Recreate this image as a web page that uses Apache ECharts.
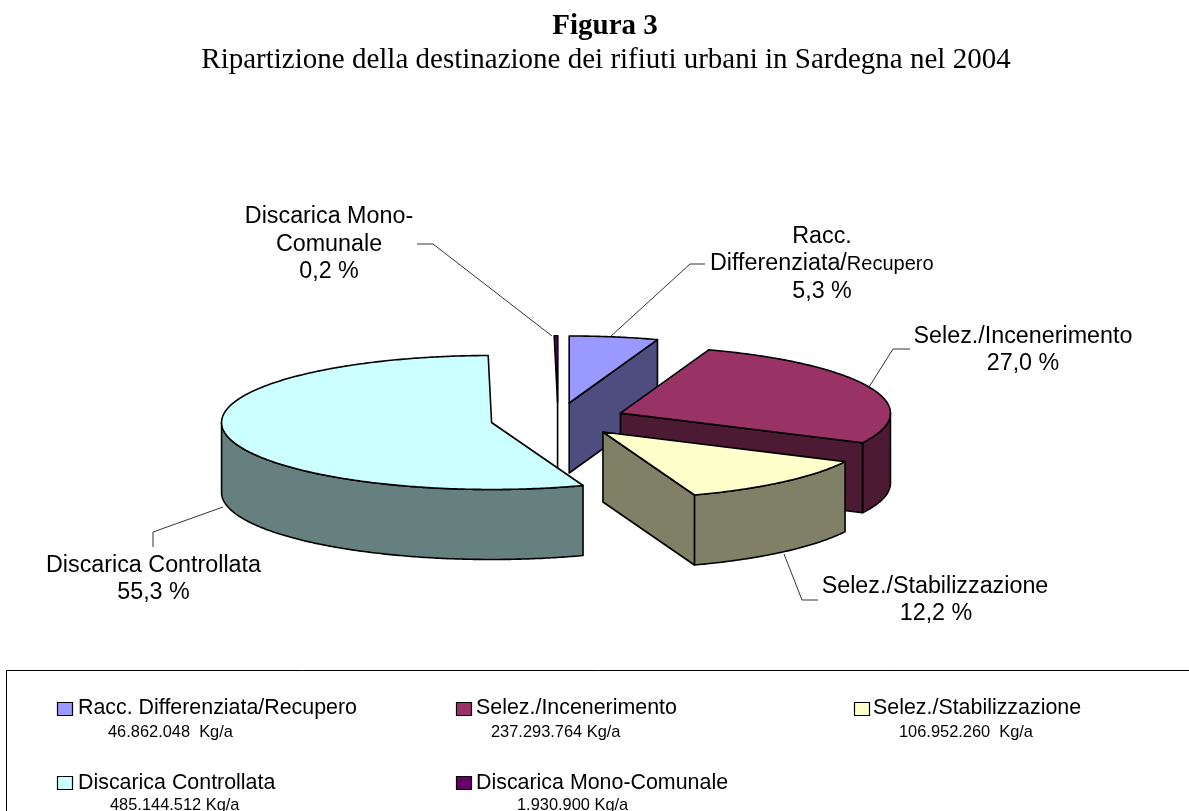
<!DOCTYPE html>
<html><head><meta charset="utf-8">
<style>html,body{margin:0;padding:0;background:#fff}#c{width:1189px;height:811px}</style>
<script src="https://cdn.jsdelivr.net/npm/echarts@6/dist/echarts.min.js"></script>
</head><body><div id="c"></div>
<script>
// ---- data ----
const categories = ['Racc. Differenziata/Recupero','Selez./Incenerimento','Selez./Stabilizzazione','Discarica Controllata','Discarica Mono-Comunale'];
const percentages = [5.3, 27.0, 12.2, 55.3, 0.2];
const percentLabels = ['5,3 %','27,0 %','12,2 %','55,3 %','0,2 %'];
const quantities = ['46.862.048  Kg/a','237.293.764 Kg/a','106.952.260  Kg/a','485.144.512 Kg/a','1.930.900 Kg/a'];
const titleLines = ['Figura 3','Ripartizione della destinazione dei rifiuti urbani in Sardegna nel 2004'];

// ---- styles and layout ----
const topColors  = ['#9999ff','#993366','#ffffcc','#ccffff','#660066'];
const sideColors = ['#4d4d80','#4d1a33','#808066','#668080','#330033'];
const drawOrder  = [0,4,1,3,2];
const pie = {cx:558, cy:419.5, rx:270, ry:67, depth:70, explode:0.25};
const sans = '"Liberation Sans", Arial, sans-serif';
const serif = '"Liberation Serif", "Times New Roman", serif';

const total = percentages.reduce((a,b)=>a+b,0);
const starts = []; percentages.reduce((a,b,i)=>{starts[i]=a; return a+b;},0);
const rad = p => p/total*2*Math.PI;

function renderSlice(params, api){
  const i = params.dataIndex, a0 = rad(starts[i]), a1 = rad(starts[i]+api.value(0)), mid=(a0+a1)/2;
  const ax = pie.cx + pie.explode*pie.rx*Math.sin(mid), ay = pie.cy - pie.explode*pie.ry*Math.cos(mid);
  const P = t => [ax+pie.rx*Math.sin(t), ay-pie.ry*Math.cos(t)];
  const down = p => [p[0], p[1]+pie.depth];
  const arc = (s,e) => { const n=Math.max(2,Math.ceil((e-s)/0.01)), r=[]; for(let k=0;k<=n;k++) r.push(P(s+(e-s)*k/n)); return r; };
  const z = drawOrder.indexOf(i)*10;
  const style = c => ({fill:c, stroke:'#000', lineWidth:1.6, lineJoin:'round'});
  const kids = [];
  // outer wall (front half only)
  const s=Math.max(a0,Math.PI/2), e=Math.min(a1,3*Math.PI/2);
  if(e>s){ const t=arc(s,e); kids.push({type:'polygon',z2:z,shape:{points:t.concat(t.slice().reverse().map(down))},style:style(sideColors[i])}); }
  // end wall facing the viewer
  const A=[ax,ay], E=P(a1);
  if(a1<3*Math.PI/2 || i===4){ kids.push({type:'polygon',z2:z+1,shape:{points:[A,E,down(E),down(A)]},style:style(sideColors[i])}); }
  // top face
  kids.push({type:'polygon',z2:z+2,shape:{points:[A].concat(arc(a0,a1))},style:style(topColors[i])});
  return {type:'group',children:kids};
}

const txt = (x,y,t,size,opt={}) => ({type:'text',x,y,silent:true,style:Object.assign({text:t,fill:'#000',font:size+'px '+sans,textAlign:'center',textVerticalAlign:'middle'},opt)});
const leader = pts => ({type:'polyline',silent:true,shape:{points:pts},style:{stroke:'#000',lineWidth:0.8,fill:null}});
const LBL=23.3, LEG=21.4, SUB=16.4;

const legendSlots = [[57,702,78,708,108,732],[456,702,476,708,491,732],[854,702,873,708,899,732],[57,776,78,783,110,805],[456,776,476,783,517,805]];
const legendEls = [];
categories.forEach((c,i)=>{
  const s=legendSlots[i];
  legendEls.push({type:'rect',silent:true,shape:{x:s[0]+.5,y:s[1]+.5,width:15,height:13},style:{fill:topColors[i],stroke:'#000',lineWidth:1.2}});
  legendEls.push(txt(s[2],s[3],c,LEG,{textAlign:'left'}));
  legendEls.push(txt(s[4],s[5],quantities[i],SUB,{textAlign:'left'}));
});

const labelEls = [
  txt(329,217,'Discarica Mono-',LBL), txt(329,245,'Comunale',LBL), txt(329,272,percentLabels[4],LBL),
  txt(822,237,'Racc.',LBL),
  {type:'text',x:710,y:264,silent:true,style:{text:'{a|Differenziata/}{b|Recupero}',textAlign:'left',textVerticalAlign:'middle',rich:{a:{font:LBL+'px '+sans,fill:'#000'},b:{font:'20px '+sans,fill:'#000'}}}},
  txt(822,292,percentLabels[0],LBL),
  txt(1023,337,categories[1],LBL), txt(1023,364,percentLabels[1],LBL),
  txt(935,587,categories[2],LBL), txt(936,614,percentLabels[2],LBL),
  txt(153.5,566,categories[3],LBL), txt(153.5,593,percentLabels[3],LBL),
  leader([[417,244],[433,244],[552,336]]),
  leader([[705,264],[690,264],[610,337]]),
  leader([[910,349],[893,349],[869,387]]),
  leader([[818,600],[802,600],[784,554]]),
  leader([[153,547],[153,532],[223,507]])
];

const chart = echarts.init(document.getElementById('c'),null,{renderer:'canvas'});
chart.setOption({
  animation:false,
  backgroundColor:'#fff',
  graphic:{elements:[
    {type:'text',x:605,y:27,silent:true,style:{text:titleLines[0],font:'bold 29px '+serif,fill:'#000',textAlign:'center',textVerticalAlign:'middle'}},
    {type:'text',x:606,y:60,silent:true,style:{text:titleLines[1],font:'29px '+serif,fill:'#000',textAlign:'center',textVerticalAlign:'middle'}},
    {type:'rect',silent:true,shape:{x:6.5,y:670.5,width:1300,height:300},style:{fill:null,stroke:'#000',lineWidth:1}},
    ...labelEls, ...legendEls
  ]},
  series:[{type:'custom',coordinateSystem:'none',silent:true,clip:false,
    data:percentages.map((v,i)=>({name:categories[i],value:[v]})),
    encode:{value:0},renderItem:renderSlice}]
});
</script></body></html>
